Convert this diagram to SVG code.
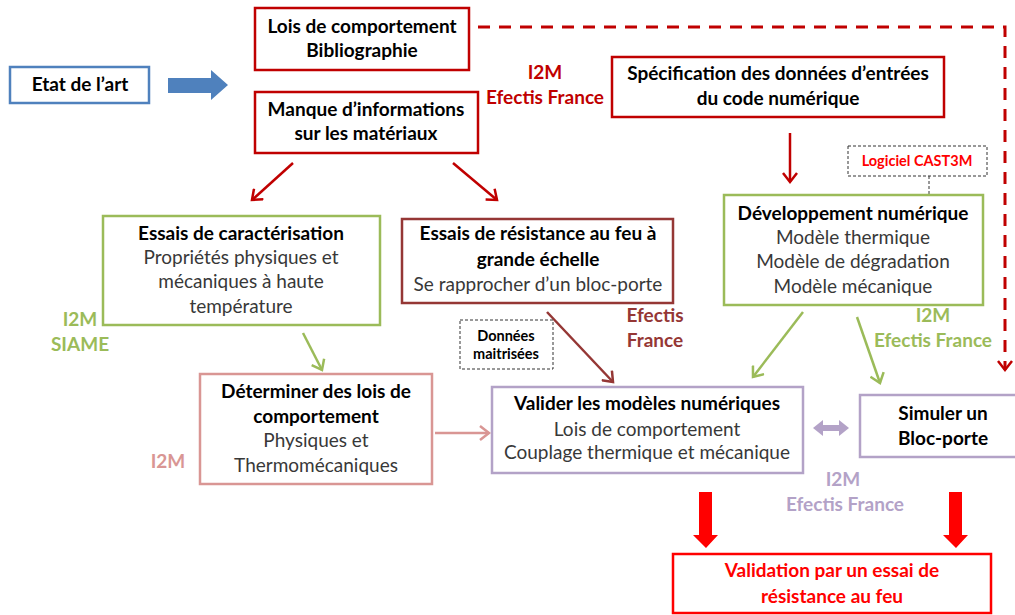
<svg xmlns="http://www.w3.org/2000/svg" width="1015" height="615" viewBox="0 0 1015 615">
<defs>
<style>
text{font-family:Lato,"Liberation Sans",sans-serif;font-size:19px;text-anchor:middle}
.b{font-weight:bold;fill:#000}
.n{fill:#383838}
.box{fill:#fff;stroke-width:2.5}
.red{stroke:#C00000}
.grn{stroke:#9BBB59}
.dred{stroke:#953735}
.pink{stroke:#D99694}
.pur{stroke:#B3A2C7}
.dash{fill:#fff;stroke:#333;stroke-width:1;stroke-dasharray:3 2}
.lbl{font-weight:bold}
.sm{font-size:14.5px}
</style>
<marker id="mr" markerWidth="16" markerHeight="16" refX="12" refY="8" orient="auto" markerUnits="userSpaceOnUse"><path d="M3,1 L12,8 L3,15" fill="none" stroke="#C00000" stroke-width="2.5"/></marker>
<marker id="mg" markerWidth="16" markerHeight="16" refX="12" refY="8" orient="auto" markerUnits="userSpaceOnUse"><path d="M3,1 L12,8 L3,15" fill="none" stroke="#9BBB59" stroke-width="2.5"/></marker>
<marker id="md" markerWidth="16" markerHeight="16" refX="12" refY="8" orient="auto" markerUnits="userSpaceOnUse"><path d="M3,1 L12,8 L3,15" fill="none" stroke="#953735" stroke-width="2.5"/></marker>
<marker id="mp" markerWidth="16" markerHeight="16" refX="12" refY="8" orient="auto" markerUnits="userSpaceOnUse"><path d="M3,1 L12,8 L3,15" fill="none" stroke="#D99694" stroke-width="2.5"/></marker>
</defs>
<rect width="1015" height="615" fill="#fff"/>

<g id="connectors" fill="none" stroke-width="2.5">
<polygon points="168,78 211,78 211,70 228,85 211,100 211,93 168,93" fill="#4F81BD" stroke="none"/>
<polyline points="478,27 1005,27 1005,370" stroke="#C00000" stroke-width="3" stroke-dasharray="12 9" marker-end="url(#mr)"/>
<line x1="293" y1="163" x2="252" y2="200" stroke="#C00000" marker-end="url(#mr)"/>
<line x1="453" y1="163" x2="497" y2="200" stroke="#C00000" marker-end="url(#mr)"/>
<line x1="790" y1="133" x2="790" y2="182" stroke="#C00000" marker-end="url(#mr)"/>
<line x1="929" y1="176" x2="929" y2="195" stroke="#333" stroke-width="1" stroke-dasharray="3 2"/>
<line x1="303" y1="333" x2="322" y2="370" stroke="#9BBB59" marker-end="url(#mg)"/>
<line x1="803" y1="312" x2="753" y2="377" stroke="#9BBB59" marker-end="url(#mg)"/>
<line x1="857" y1="317" x2="880" y2="383" stroke="#9BBB59" marker-end="url(#mg)"/>
<line x1="547" y1="312" x2="613" y2="382" stroke="#953735" marker-end="url(#md)"/>
<line x1="435" y1="433" x2="489" y2="433" stroke="#D99694" marker-end="url(#mp)"/>
<polygon points="813,428 823,420 823,425 839,425 839,420 849,428 839,436 839,431 823,431 823,436" fill="#B3A2C7" stroke="none"/>
<polygon points="699,492 712,492 712,535 718,535 706,548 693,535 699,535" fill="#FF0000" stroke="none"/>
<polygon points="949,492 962,492 962,535 968,535 956,548 943,535 949,535" fill="#FF0000" stroke="none"/>
</g>

<g id="etat">
<rect x="10" y="67" width="139" height="36" fill="#fff" stroke="#4F81BD" stroke-width="2.5"/>
<text x="80" y="91" class="b">Etat de l’art</text>
</g>

<g id="lois">
<rect x="255" y="8" width="214" height="62" class="box red"/>
<text x="362" y="33" class="b">Lois de comportement</text>
<text x="362" y="57" class="b">Bibliographie</text>
</g>

<g id="manque">
<rect x="255" y="92" width="223" height="61" class="box red"/>
<text x="366" y="116" class="b">Manque d’informations</text>
<text x="366" y="140" class="b">sur les matériaux</text>
</g>

<g id="lbl-red">
<text x="545" y="79" class="lbl" fill="#C00000">I2M</text>
<text x="545" y="104" class="lbl" fill="#C00000">Efectis France</text>
</g>

<g id="spec">
<rect x="612" y="57" width="332" height="60" class="box red"/>
<text x="778" y="80" class="b">Spécification des données d’entrées</text>
<text x="778" y="105" class="b">du code numérique</text>
</g>

<g id="cast3m">
<rect x="848" y="146" width="139" height="30" class="dash"/>
<text x="917" y="166" class="lbl sm" fill="#FF0000">Logiciel CAST3M</text>
</g>

<g id="dev">
<rect x="724" y="195" width="259" height="110" class="box grn"/>
<text x="853" y="220" class="b">Développement numérique</text>
<text x="853" y="244" class="n">Modèle thermique</text>
<text x="853" y="268" class="n">Modèle de dégradation</text>
<text x="853" y="293" class="n">Modèle mécanique</text>
</g>

<g id="essais-car">
<rect x="103" y="216" width="277" height="109" class="box grn"/>
<text x="241" y="240" class="b">Essais de caractérisation</text>
<text x="241" y="264" class="n">Propriétés physiques et</text>
<text x="241" y="288" class="n">mécaniques à haute</text>
<text x="241" y="313" class="n">température</text>
</g>

<g id="lbl-green1">
<text x="80" y="326" class="lbl" fill="#9BBB59">I2M</text>
<text x="80" y="351" class="lbl" fill="#9BBB59">SIAME</text>
</g>

<g id="essais-res">
<rect x="402" y="219" width="271" height="84" class="box dred"/>
<text x="538" y="240" class="b">Essais de résistance au feu à</text>
<text x="538" y="266" class="b">grande échelle</text>
<text x="538" y="291" class="n">Se rapprocher d’un bloc-porte</text>
</g>

<g id="lbl-dred">
<text x="655" y="322" class="lbl" fill="#953735">Efectis</text>
<text x="655" y="347" class="lbl" fill="#953735">France</text>
</g>

<g id="donnees">
<rect x="460" y="320" width="93" height="49" class="dash"/>
<text x="506" y="341" class="b sm">Données</text>
<text x="506" y="359" class="b sm">maitrisées</text>
</g>

<g id="lbl-green2">
<text x="933" y="322" class="lbl" fill="#9BBB59">I2M</text>
<text x="933" y="347" class="lbl" fill="#9BBB59">Efectis France</text>
</g>

<g id="determiner">
<rect x="200" y="374" width="232" height="110" class="box pink"/>
<text x="316" y="398" class="b">Déterminer des lois de</text>
<text x="316" y="423" class="b">comportement</text>
<text x="316" y="447" class="n">Physiques et</text>
<text x="316" y="472" class="n">Thermomécaniques</text>
</g>

<g id="lbl-pink">
<text x="168" y="468" class="lbl" fill="#D99694">I2M</text>
</g>

<g id="valider">
<rect x="492" y="387" width="311" height="86" class="box pur"/>
<text x="647" y="410" class="b">Valider les modèles numériques</text>
<text x="647" y="436" class="n">Lois de comportement</text>
<text x="647" y="459" class="n">Couplage thermique et mécanique</text>
</g>

<g id="simuler">
<rect x="860" y="395" width="170" height="62" class="box pur"/>
<text x="943" y="420" class="b">Simuler un</text>
<text x="943" y="445" class="b">Bloc-porte</text>
</g>

<g id="lbl-pur">
<text x="843" y="486" class="lbl" fill="#B3A2C7">I2M</text>
<text x="845" y="511" class="lbl" fill="#B3A2C7">Efectis France</text>
</g>

<g id="validation">
<rect x="673" y="554" width="318" height="59" class="box" stroke="#FF0000"/>
<text x="832" y="577" class="lbl" fill="#FF0000">Validation par un essai de</text>
<text x="832" y="603" class="lbl" fill="#FF0000">résistance au feu</text>
</g>
</svg>
